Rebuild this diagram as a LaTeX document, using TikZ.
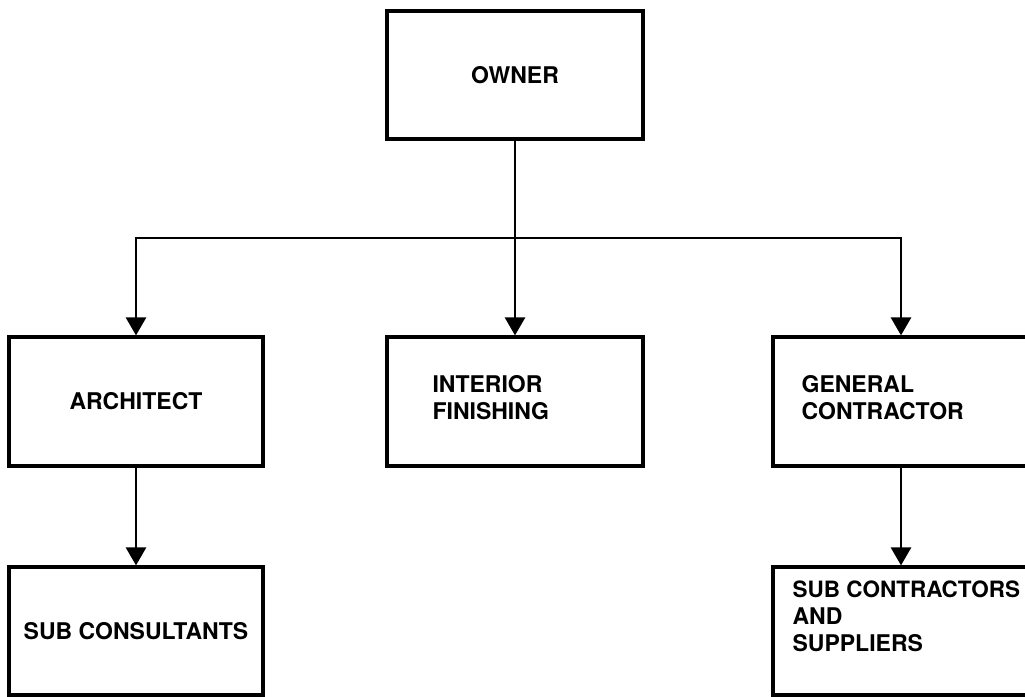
\documentclass[tikz,border=0pt]{standalone}
\usepackage{fontspec}
\setmainfont{TeX Gyre Heros}
\usetikzlibrary{arrows.meta}

\tikzset{
  box/.style={draw, line width=3.2pt, minimum width=256pt, minimum height=128pt,
              inner sep=0pt, font=\fontsize{23}{27}\selectfont\bfseries},
  lbl/.style={anchor=west, align=left, inner sep=0pt,
              font=\fontsize{23}{27}\selectfont\bfseries},
  conn/.style={line width=2.8pt, -{Triangle[width=20pt,length=18pt]}}
}

\begin{document}
\begin{tikzpicture}[x=1pt,y=-1pt]
  \useasboundingbox[fill=white] (0,0) rectangle (1025,696);

  % top level
  \node[box] (owner) at (515,75) {OWNER};

  % second level
  \node[box, minimum width=254pt, minimum height=129pt] (arch) at (136,401.5) {ARCHITECT};
  \node[box, minimum height=129pt] (int) at (515,401.5) {};
  \node[box, minimum height=129pt] (gc) at (901,401.5) {};
  \node[lbl] (intT) at ([xshift=47pt,yshift=3.5pt]int.west) {INTERIOR\\FINISHING};
  \node[lbl] (gcT) at ([xshift=30pt,yshift=3.5pt]gc.west) {GENERAL\\CONTRACTOR};

  % third level
  \node[box, minimum width=254pt] (scons) at (136,631) {SUB CONSULTANTS};
  \node[box] (sctr) at (901,631) {};
  \node[lbl] (sctrT) at ([xshift=21pt,yshift=15pt]sctr.west) {\fontsize{22.5}{26}\selectfont SUB CONTRACTORS\\AND\\SUPPLIERS};

  % distribution bus under the owner
  \coordinate (bus) at (515,238);

  \draw[conn] (owner.south) -- (int.north);
  \draw[conn] (owner.south |- bus) -| (arch.north);
  \draw[conn] (owner.south |- bus) -| (gc.north);
  \draw[conn] (arch.south) -- (scons.north);
  \draw[conn] (gc.south) -- (sctr.north);
\end{tikzpicture}
\end{document}
